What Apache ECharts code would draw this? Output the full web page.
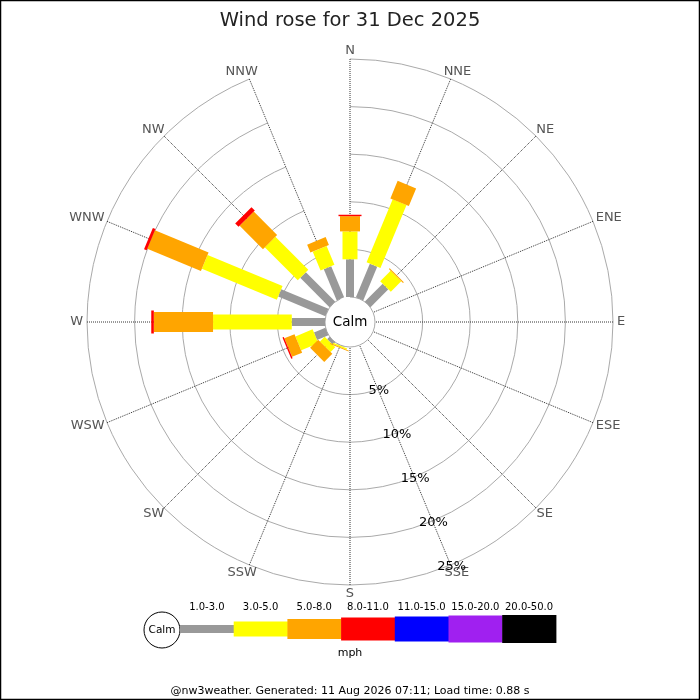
<!DOCTYPE html>
<html>
<head>
<meta charset="utf-8">
<title>Wind rose</title>
<script src="https://cdn.jsdelivr.net/npm/echarts@6/dist/echarts.min.js"></script>
<style>
  html, body { margin: 0; padding: 0; background: #fff; }
  #chart { width: 700px; height: 700px; }
</style>
</head>
<body>
<div id="chart"></div>
<script>
const directions = ['N', 'NNE', 'NE', 'ENE', 'E', 'ESE', 'SE', 'SSE',
                    'S', 'SSW', 'SW', 'WSW', 'W', 'WNW', 'NW', 'NNW'];
const bandLabels = ['1.0-3.0', '3.0-5.0', '5.0-8.0', '8.0-11.0', '11.0-15.0', '15.0-20.0', '20.0-50.0'];
const pctTicks = [5, 10, 15, 20, 25];

// % of time per direction, one array per speed band (mph)
const band1to3   = [3.96, 3.83, 2.65, 0, 0, 0, 0, 0, 0, 0.05, 0.35, 1.3, 3.49, 5.37, 4.35, 3.55];
const band3to5   = [2.93, 7.16, 1.55, 0, 0, 0, 0, 0, 0, 0.15, 0.7, 1.95, 8.27, 8.52, 4.9, 2.15];
const band5to8   = [1.6, 2.0, 0.12, 0, 0, 0, 0, 0, 0, 0.1, 1.2, 1.15, 6.22, 6.1, 3.47, 0.9];
const band8to11  = [0.15, 0, 0, 0, 0, 0, 0, 0, 0, 0, 0, 0.15, 0.27, 0.3, 0.5, 0];
const band11to15 = [0, 0, 0, 0, 0, 0, 0, 0, 0, 0, 0, 0, 0, 0, 0, 0];
const band15to20 = [0, 0, 0, 0, 0, 0, 0, 0, 0, 0, 0, 0, 0, 0, 0, 0];
const band20to50 = [0, 0, 0, 0, 0, 0, 0, 0, 0, 0, 0, 0, 0, 0, 0, 0];
const bands = [band1to3, band3to5, band5to8, band8to11, band11to15, band15to20, band20to50];

const bandColors = ['#999999', '#ffff00', '#ffa500', '#ff0000', '#0000ff', '#a020f0', '#000000'];
const bandWidths = [8, 15, 20, 23, 25, 27, 28];

const font = 'DejaVu Sans';
const dirFontSize = 13;
const myChart = echarts.init(document.getElementById('chart'));

const measureCtx = document.createElement('canvas').getContext('2d');
measureCtx.font = dirFontSize + 'px "' + font + '"';

// stack the bands: each segment runs from the running total to the new total
const running = directions.map(() => 0);
const bandSegments = bands.map(values => {
    const segs = [];
    values.forEach((v, d) => {
        if (v > 0) {
            segs.push([d, running[d], running[d] + v]);
            running[d] += v;
        }
    });
    return segs;
});

// unit vector pointing outward along a direction
function outward(api, dir) {
    const a = api.coord([0, dir]);
    const b = api.coord([pctTicks[pctTicks.length - 1], dir]);
    const len = Math.hypot(b[0] - a[0], b[1] - a[1]);
    return [(b[0] - a[0]) / len, (b[1] - a[1]) / len, b];
}

function barRenderer(band) {
    return function (params, api) {
        const dir = api.value(0);
        const p0 = api.coord([api.value(1), dir]);
        const p1 = api.coord([api.value(2), dir]);
        const u = outward(api, dir);
        const hw = bandWidths[band] / 2;
        const nx = -u[1] * hw, ny = u[0] * hw;
        return {
            type: 'polygon',
            shape: {
                points: [
                    [p0[0] + nx, p0[1] + ny],
                    [p1[0] + nx, p1[1] + ny],
                    [p1[0] - nx, p1[1] - ny],
                    [p0[0] - nx, p0[1] - ny]
                ]
            },
            style: { fill: bandColors[band] }
        };
    };
}

const barSeries = bandSegments.map((segs, i) => ({
    type: 'custom',
    name: bandLabels[i],
    coordinateSystem: 'polar',
    silent: true,
    encode: { angle: 0, radius: 2 },
    renderItem: barRenderer(i),
    data: segs,
    z: 3
}));

// compass labels just outside the outer ring
const dirLabelSeries = {
    type: 'custom',
    coordinateSystem: 'polar',
    silent: true,
    data: directions.map((name, i) => [pctTicks[pctTicks.length - 1], i]),
    renderItem: function (params, api) {
        const dir = api.value(1);
        const u = outward(api, dir);
        const name = directions[dir];
        const w = measureCtx.measureText(name).width;
        const h = 9;
        const m = 4;
        return {
            type: 'text',
            x: u[2][0] + u[0] * (m + w / 2),
            y: u[2][1] + u[1] * (m + h / 2),
            style: {
                text: name, fill: '#555', font: dirFontSize + 'px ' + font,
                align: 'center', verticalAlign: 'middle'
            }
        };
    },
    z: 4
};

// ring labels along the SSE spoke
const pctSeries = {
    type: 'custom',
    coordinateSystem: 'polar',
    silent: true,
    data: pctTicks.map(p => [p, directions.indexOf('SSE')]),
    renderItem: function (params, api) {
        const p = api.coord([api.value(0), api.value(1)]);
        return {
            type: 'text', x: p[0] + 1, y: p[1] + 2,
            style: {
                text: api.value(0) + '%', fill: '#000', font: '13px ' + font,
                align: 'center', verticalAlign: 'middle'
            }
        };
    },
    z: 5
};

// legend: calm circle then one key per speed band
const legendX = 180, legendStep = 53.7, legendY = 629;
const legendGraphics = [
    { type: 'circle', shape: { cx: 162, cy: legendY + 1, r: 18 },
      style: { fill: '#fff', stroke: '#000', lineWidth: 1 } },
    { type: 'text', x: 162, y: legendY + 1,
      style: { text: 'Calm', fill: '#000', font: '10.5px ' + font, align: 'center', verticalAlign: 'middle' } }
];
bandLabels.forEach((lab, i) => {
    const x = legendX + i * legendStep;
    legendGraphics.push({
        type: 'rect',
        shape: { x: x, y: legendY - bandWidths[i] / 2, width: legendStep + 0.5, height: bandWidths[i] },
        style: { fill: bandColors[i] }
    });
    legendGraphics.push({
        type: 'text', x: x + legendStep / 2, y: 607,
        style: { text: lab, fill: '#000', font: '10px ' + font, align: 'center', verticalAlign: 'middle' }
    });
});

const option = {
    backgroundColor: '#fff',
    animation: false,
    title: {
        text: 'Wind rose for 31 Dec 2025',
        left: 'center',
        top: 6,
        textStyle: { fontSize: 19.5, fontWeight: 'normal', color: '#222', fontFamily: font }
    },
    polar: { center: [350, 322], radius: [25, 263] },
    radiusAxis: {
        type: 'value',
        min: 0,
        max: 25,
        interval: 5,
        axisLine: { show: false },
        axisTick: { show: false },
        axisLabel: { show: false },
        splitLine: { show: true, lineStyle: { color: '#aaaaaa', width: 1 } }
    },
    angleAxis: {
        type: 'category',
        data: directions,
        startAngle: 90,
        clockwise: true,
        boundaryGap: false,
        axisLine: { show: false },
        axisTick: { show: false },
        axisLabel: { show: false },
        splitLine: { show: true, interval: 0, lineStyle: { color: '#333', type: 'dotted', width: 1 } }
    },
    series: barSeries.concat([dirLabelSeries, pctSeries]),
    graphic: [
        { type: 'rect', shape: { x: 0.5, y: 0.5, width: 699, height: 699 },
          style: { fill: null, stroke: '#000', lineWidth: 1.5 }, z: 100 },
        { type: 'text', x: 350, y: 322,
          style: { text: 'Calm', fill: '#000', font: '13.5px ' + font, align: 'center', verticalAlign: 'middle' } },
        { type: 'text', x: 350, y: 653,
          style: { text: 'mph', fill: '#000', font: '11px ' + font, align: 'center', verticalAlign: 'middle' } },
        { type: 'text', x: 350, y: 691,
          style: { text: '@nw3weather. Generated: 11 Aug 2026 07:11; Load time: 0.88 s', fill: '#000',
                   font: '11px ' + font, align: 'center', verticalAlign: 'middle' } }
    ].concat(legendGraphics)
};

myChart.setOption(option);
</script>
</body>
</html>
